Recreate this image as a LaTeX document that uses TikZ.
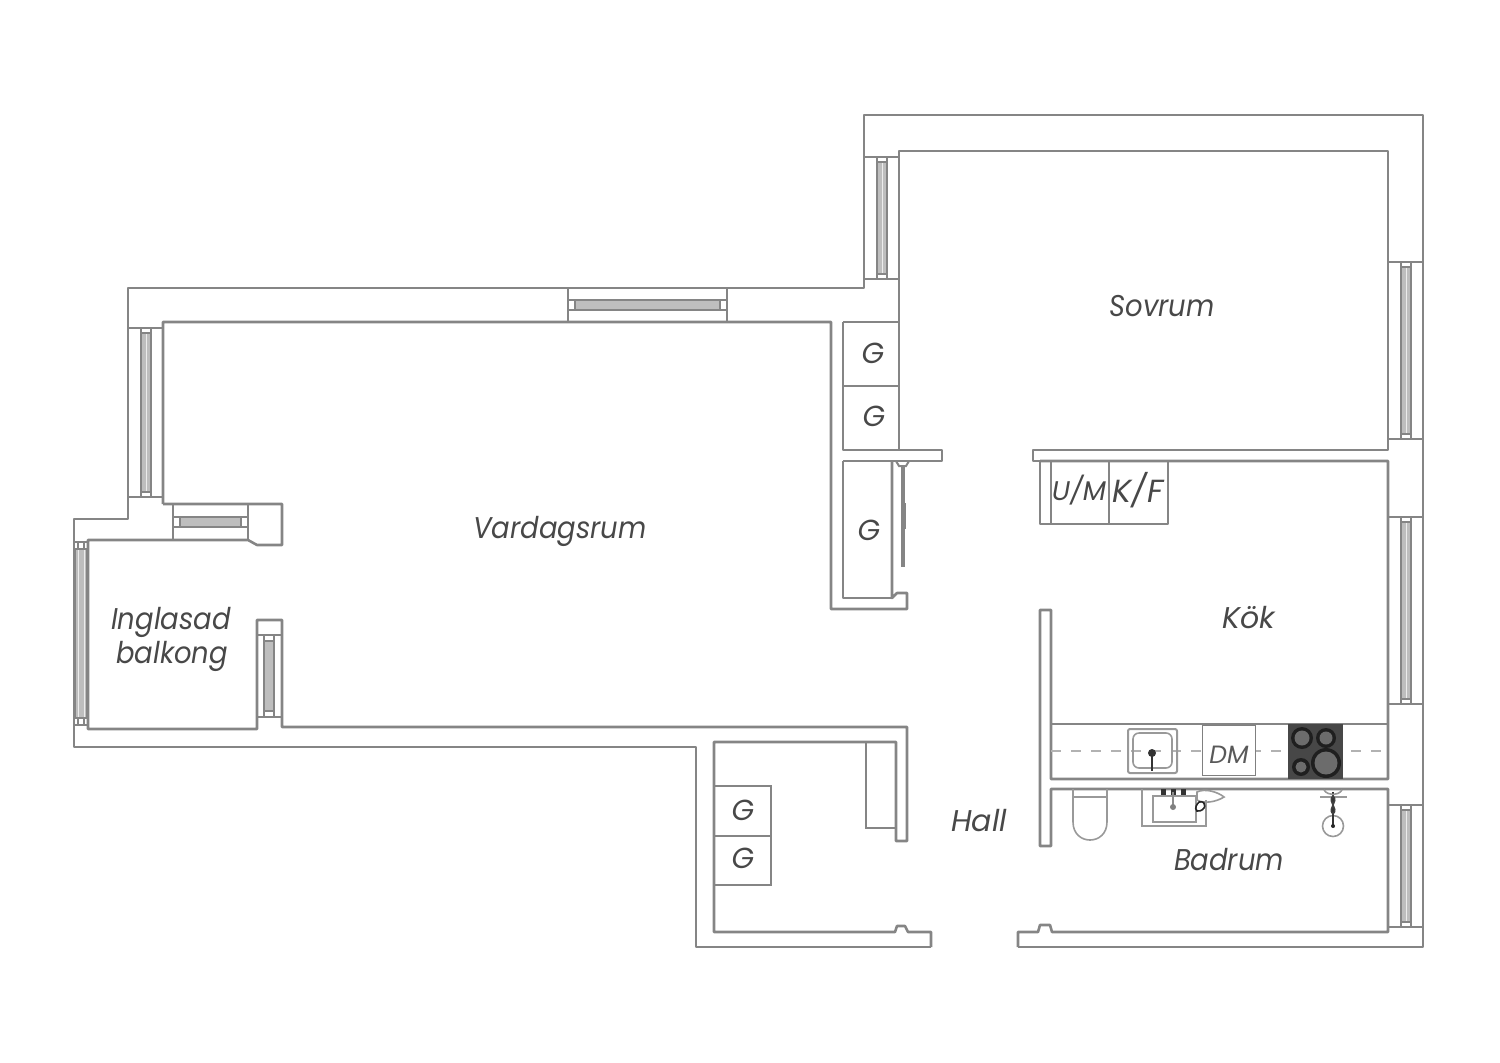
\documentclass[tikz,border=0pt]{standalone}
\usepackage{fontspec}
\setmainfont{Poppins}
\newfontfamily\roomfont[FakeStretch=0.915]{Poppins}
\usetikzlibrary{positioning}
\definecolor{wallgray}{HTML}{858585}
\definecolor{glassgray}{HTML}{BEBEBE}
\definecolor{labelgray}{HTML}{484848}
\tikzset{
    wall/.style={draw=wallgray, line width=1.3pt, line join=round},
    thin wall/.style={draw=wallgray, line width=1pt},
    glass/.style={draw=wallgray, fill=glassgray, line width=0.8pt},
    fixture/.style={draw=gray!80, line width=0.8pt},
    room/.style={font=\itshape\fontsize{15}{18}\selectfont, text=labelgray, inner sep=0pt, anchor=base},
    long room/.style={room, font=\roomfont\itshape\fontsize{15}{18}\selectfont},
    unit/.style={font=\itshape\fontsize{14.5}{17}\selectfont, text=labelgray, inner sep=0pt},
    small unit/.style={font=\itshape\fontsize{13.5}{15}\selectfont, text=labelgray, inner sep=0pt},
}
\begin{document}
\begin{tikzpicture}[x=0.5pt,y=-0.5pt]
\useasboundingbox (0,0) rectangle (1500,1062);
% outer wall
\draw[wall] (931,947) -- (696,947) -- (696,747) -- (74,747) -- (74,519) -- (128,519) -- (128,288) -- (864,288) -- (864,115) -- (1423,115) -- (1423,947) -- (1018,947);
% bedroom
\draw[wall] (843,322) -- (899,322);
\draw[wall] (864,279) -- (899,279);
\draw[wall] (899,279) -- (899,151) -- (1388,151) -- (1388,450) -- (1033,450) -- (1033,461) -- (1040,461) -- (1040,524) -- (1168,524) -- (1168,461);
\draw[wall] (899,279) -- (899,450) -- (942,450) -- (942,461) -- (843,461);
\draw[wall] (843,322) -- (843,450) -- (899,450);
\draw[thin wall] (843,386) -- (899,386);
% living room
\draw[wall] (128,497) -- (163,497);
\draw[wall] (163,504) -- (163,322) -- (831,322) -- (831,609) -- (907,609) -- (907,593) -- (897,593) -- (892,598) -- (892,461);
\draw[wall] (843,461) -- (843,598) -- (892,598);
\draw[wall] (163,504) -- (282,504) -- (282,545) -- (257,545) -- (248,540) -- (88,540) -- (88,729) -- (257,729) -- (257,620) -- (282,620) -- (282,727) -- (907,727) -- (907,841) -- (896,841) -- (896,742) -- (714,742) -- (714,932) -- (895,932) -- (897,926) -- (905,926) -- (908,932) -- (931,932) -- (931,947);
\draw[thin wall] (173,504) -- (173,540) (248,504) -- (248,540);
\draw[thin wall] (257,635) -- (282,635) (257,717) -- (282,717);
% closet doors
\draw[thin wall] (896,461) -- (899,466) -- (906,466) -- (909,461);
\draw[wall,line width=1.6pt] (903,466) -- (903,567);
\draw[wall,line width=2.2pt] (904,503) -- (904,529);
% hall cupboards
\draw[thin wall] (866,742) -- (866,828) -- (896,828);
\draw[thin wall] (714,786) -- (771,786) -- (771,885) -- (714,885);
\draw[thin wall] (714,836) -- (771,836);
% kitchen
\draw[wall] (1040,461) -- (1388,461) -- (1388,779) -- (1051,779) -- (1051,610) -- (1040,610) -- (1040,846) -- (1051,846) -- (1051,789) -- (1388,789) -- (1388,932) -- (1052,932) -- (1050,925) -- (1040,925) -- (1038,932) -- (1018,932) -- (1018,947);
\draw[wall] (1051,724) -- (1388,724);
\draw[thin wall] (1051,461) -- (1051,524) (1109,461) -- (1109,524);
\draw[draw=gray!60, line width=0.9pt, dash pattern=on 5pt off 5pt] (1051,751) -- (1388,751);
% sink
\draw[fixture, line width=1pt, rounded corners=1pt] (1128,729) rectangle (1177,773);
\draw[fixture, rounded corners=3pt] (1133,733) rectangle (1172,768);
\draw[draw=gray!40!black, line width=1pt] (1152,752) -- (1152,771);
\fill[gray!40!black] (1152,753) circle (4);
% dishwasher
\node[draw=gray, fill=white, line width=0.5pt, minimum width=26.5pt, minimum height=25pt, inner sep=0pt] (dm box) at (1228.5,750) {};
\node[small unit, font=\itshape\fontsize{12.5}{14}\selectfont, text=black!65] (dm) at (1229,755) {DM};
% hob
\fill[black!72] (1288,724) rectangle (1343,779);
\foreach \hx/\hy/\hr in {1302/738/11,1326/738/10,1301/767/9,1326/763/15}{
    \fill[black!88] (\hx,\hy) circle (\hr);
    \fill[gray!85!black] (\hx,\hy) circle (\hr-3.5);
}
% toilet
\draw[fixture] (1073,789) -- (1073,822) .. controls (1073,846) and (1107,846) .. (1107,822) -- (1107,789);
\draw[fixture] (1073,797) -- (1107,797);
% basin
\draw[fixture, line width=1pt] (1142,789) -- (1142,826) -- (1206,826) -- (1206,800);
\draw[fixture] (1153,796) rectangle (1196,822);
\foreach \tx in {1163,1173,1183}{
    \fill[black!80] (\tx-2.5,789) rectangle (\tx+2.5,795);
}
\draw[draw=gray!90, line width=0.9pt] (1173,792) -- (1173,807);
\fill[gray] (1173,807) circle (3);
\draw[fixture] (1197,792) .. controls (1205,788) and (1218,792) .. (1224,797) .. controls (1216,802) and (1204,804) .. (1197,800) -- cycle;
\draw[fixture, draw=gray!30!black] (1199,802) .. controls (1208,800) and (1206,812) .. (1197,811) .. controls (1194,808) and (1197,804) .. (1199,802);
% shower
\draw[fixture] (1333,826) circle (10.5);
\draw[fixture, draw=gray!40!black] (1333,792) -- (1333,826);
\draw[fixture] (1320,797) -- (1347,797);
\draw[fixture] (1324,790) .. controls (1328,796) and (1338,796) .. (1342,790);
\draw[fixture, draw=gray!50!black] (1333,796) .. controls (1327,802) and (1339,808) .. (1333,814) .. controls (1327,808) and (1339,802) .. (1333,796);
\fill[gray!30!black] (1333,826) circle (2);
% windows
\foreach \wy/\wz/\wx in {157/279/864,328/497/128,262/439/1388,517/704/1388,805/927/1388}{
    \draw[thin wall] (\wx,\wy) -- (\wx+35,\wy) (\wx,\wz) -- (\wx+35,\wz);
    \draw[thin wall, line width=0.7pt] (\wx+13,\wy) -- (\wx+13,\wy+5) -- (\wx+23,\wy+5) -- (\wx+23,\wy);
    \draw[thin wall, line width=0.7pt] (\wx+13,\wz) -- (\wx+13,\wz-5) -- (\wx+23,\wz-5) -- (\wx+23,\wz);
    \draw[glass] (\wx+13,\wy+5) rectangle (\wx+23,\wz-5);
    \draw[draw=white!85!gray, line width=0.5pt] (\wx+18,\wy+6) -- (\wx+18,\wz-6);
}
% living room window top, balcony windows
\draw[thin wall] (568,288) -- (568,322) (727,288) -- (727,322);
\draw[thin wall, line width=0.7pt] (568,300) -- (575,300) -- (575,310) -- (568,310);
\draw[thin wall, line width=0.7pt] (727,300) -- (720,300) -- (720,310) -- (727,310);
\draw[glass] (575,300) rectangle (720,310);
\draw[thin wall, line width=0.7pt] (173,517) -- (180,517) -- (180,527) -- (173,527);
\draw[thin wall, line width=0.7pt] (248,517) -- (241,517) -- (241,527) -- (248,527);
\draw[glass] (180,517) rectangle (241,527);
\draw[thin wall, line width=0.7pt] (264,635) -- (264,717) (274,635) -- (274,717);
\draw[glass] (264,641) rectangle (274,711);
\draw[thin wall] (74,542) -- (88,542) (74,725) -- (88,725);
\draw[glass] (75,549) rectangle (87,718);
\draw[draw=white!85!gray, line width=0.5pt] (78,550) -- (78,717) (84,550) -- (84,717);
\draw[thin wall, line width=0.7pt] (78,542) -- (78,549) (84,542) -- (84,549) (78,718) -- (78,725) (84,718) -- (84,725);
% labels
\node[long room] (sovrum) at (1162,316) {Sovrum};
\node[long room] (vardagsrum) at (560,538) {Vardagsrum};
\node[long room] (inglasad) at (171,629) {Inglasad};
\node[long room] (balkong) at (172,663) {balkong};
\node[room] (kok) at (1249,628) {Kök};
\node[room] (hall) at (979,831) {Hall};
\node[long room] (badrum) at (1229,870) {Badrum};
\node[unit] (g1) at (873,353) {G};
\node[unit] (g2) at (874,416) {G};
\node[unit] (g3) at (869,530) {G};
\node[unit] (g4) at (743,810) {G};
\node[unit] (g5) at (743,858) {G};
\node[small unit] (um) at (1079,490) {U/M};
\node[small unit, font=\itshape\fontsize{16}{18}\selectfont] (kf) at (1138,490) {K/F};
\end{tikzpicture}
\end{document}
